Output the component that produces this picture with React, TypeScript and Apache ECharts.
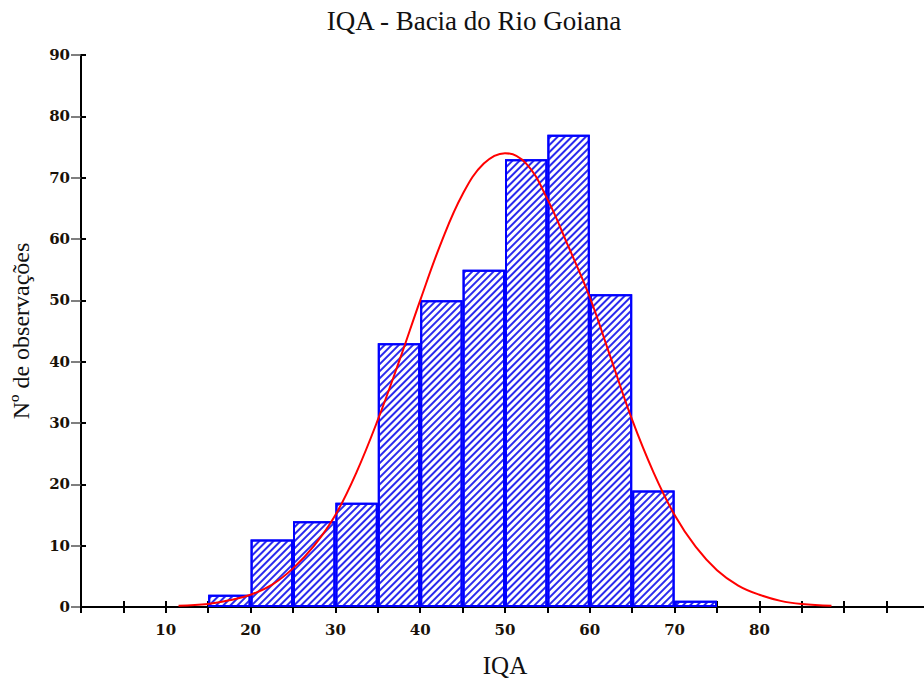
import React, { useEffect, useRef } from "react";
import * as echarts from "echarts";

const binStarts = [15, 20, 25, 30, 35, 40, 45, 50, 55, 60, 65, 70];
const binWidth = 5;
const counts = [2, 11, 14, 17, 43, 50, 55, 73, 77, 51, 19, 1];

const curveX = [11.5, 15, 17.5, 20, 22.5, 25, 27.5, 30, 32.5, 35, 37.5, 40, 42.5, 45, 47.5, 50, 52.5, 55, 57.5, 60, 62.5, 65, 67.5, 70, 72.5, 75, 77.5, 80, 82.5, 85, 88.5];
const curveY = [0.2, 0.5, 1.1, 2, 3.6, 6.3, 10, 15, 22, 30.5, 40, 50, 59.5, 67.3, 72.3, 74, 72.3, 66.5, 58.7, 50.5, 40.5, 30.5, 22, 15, 9.8, 6, 3.5, 2, 1, 0.5, 0.2];

const xLabels = [10, 20, 30, 40, 50, 60, 70, 80];
const yTicks = [0, 10, 20, 30, 40, 50, 60, 70, 80, 90];

export default function App() {
  const ref = useRef<HTMLDivElement>(null);
  useEffect(() => {
    if (!ref.current) return;
    const chart = echarts.init(ref.current, undefined, { renderer: "svg" });
    const serif = "Liberation Serif";
    const axisLine = { show: true, lineStyle: { color: "#000", width: 2 } };
    const labelStyle = { fontFamily: "DejaVu Serif", fontSize: 15, fontWeight: "bold" as const, color: "#1a1208" };
    chart.setOption({
      animation: false,
      backgroundColor: "#fff",
      title: {
        text: "IQA - Bacia do Rio Goiana",
        left: 469,
        textAlign: "center",
        top: 2,
        textStyle: { fontFamily: serif, fontSize: 27, fontWeight: "normal", color: "#111" },
      },
      grid: { left: 81, top: 55, width: 850, bottom: 76 },
      xAxis: [
        {
          type: "value",
          min: 0,
          max: 100,
          interval: 5,
          position: "bottom",
          name: "IQA",
          nameLocation: "middle",
          nameGap: 46,
          nameTextStyle: { fontFamily: serif, fontSize: 25, color: "#111" },
          axisLine,
          axisTick: { show: true, inside: true, length: 6, lineStyle: { color: "#000", width: 2 } },
          splitLine: { show: false },
          axisLabel: {
            ...labelStyle,
            margin: 15,
            formatter: (v: number) => (xLabels.includes(v) ? String(v) : ""),
          },
        },
        {
          type: "value",
          min: 0,
          max: 100,
          interval: 5,
          position: "top",
          axisLine,
          axisTick: { show: true, inside: true, length: 6, lineStyle: { color: "#000", width: 2 } },
          splitLine: { show: false },
          axisLabel: { show: false },
        },
      ],
      yAxis: [
        {
          type: "value",
          min: 0,
          max: 90,
          interval: 10,
          position: "left",
          name: "Nº de observações",
          nameLocation: "middle",
          nameGap: 48,
          nameTextStyle: { fontFamily: serif, fontSize: 24, color: "#111" },
          axisLine,
          axisTick: { show: true, inside: true, length: 5, lineStyle: { color: "#000", width: 2 } },
          splitLine: { show: false },
          axisLabel: {
            ...labelStyle,
            margin: 11,
            formatter: (v: number) => (yTicks.includes(v) ? String(v) : ""),
          },
        },
        {
          type: "value",
          min: 0,
          max: 90,
          interval: 10,
          position: "right",
          axisLine,
          axisTick: { show: true, inside: true, length: 10, lineStyle: { color: "#555", width: 1.5 } },
          splitLine: { show: false },
          axisLabel: { show: false },
        },
      ],
      series: [
        {
          type: "bar",
          xAxisIndex: 0,
          yAxisIndex: 0,
          data: binStarts.map((s, i) => [s + binWidth / 2, counts[i]]),
          barWidth: "100%",
          itemStyle: {
            color: "#ffffff",
            borderColor: "#0000ff",
            borderWidth: 2,
            decal: {
              symbol: "rect",
              symbolSize: 1,
              dashArrayX: [1, 0],
              dashArrayY: [1.5, 2.8],
              rotation: -Math.PI / 4,
              color: "#2a2aee",
              backgroundColor: "#ffffff",
            },
          },
          z: 2,
        },
        {
          type: "line",
          xAxisIndex: 0,
          yAxisIndex: 0,
          data: curveX.map((x, i) => [x, curveY[i]]),
          smooth: 0.4,
          showSymbol: false,
          lineStyle: { color: "#ff0000", width: 2 },
          z: 3,
        },
      ],
    });
    return () => chart.dispose();
  }, []);
  return (
    <div style={{ position: "fixed", left: 0, top: 0, width: 924, height: 683, overflow: "hidden", background: "#fff" }}>
      <div ref={ref} style={{ width: 932, height: 683 }} />
    </div>
  );
}
